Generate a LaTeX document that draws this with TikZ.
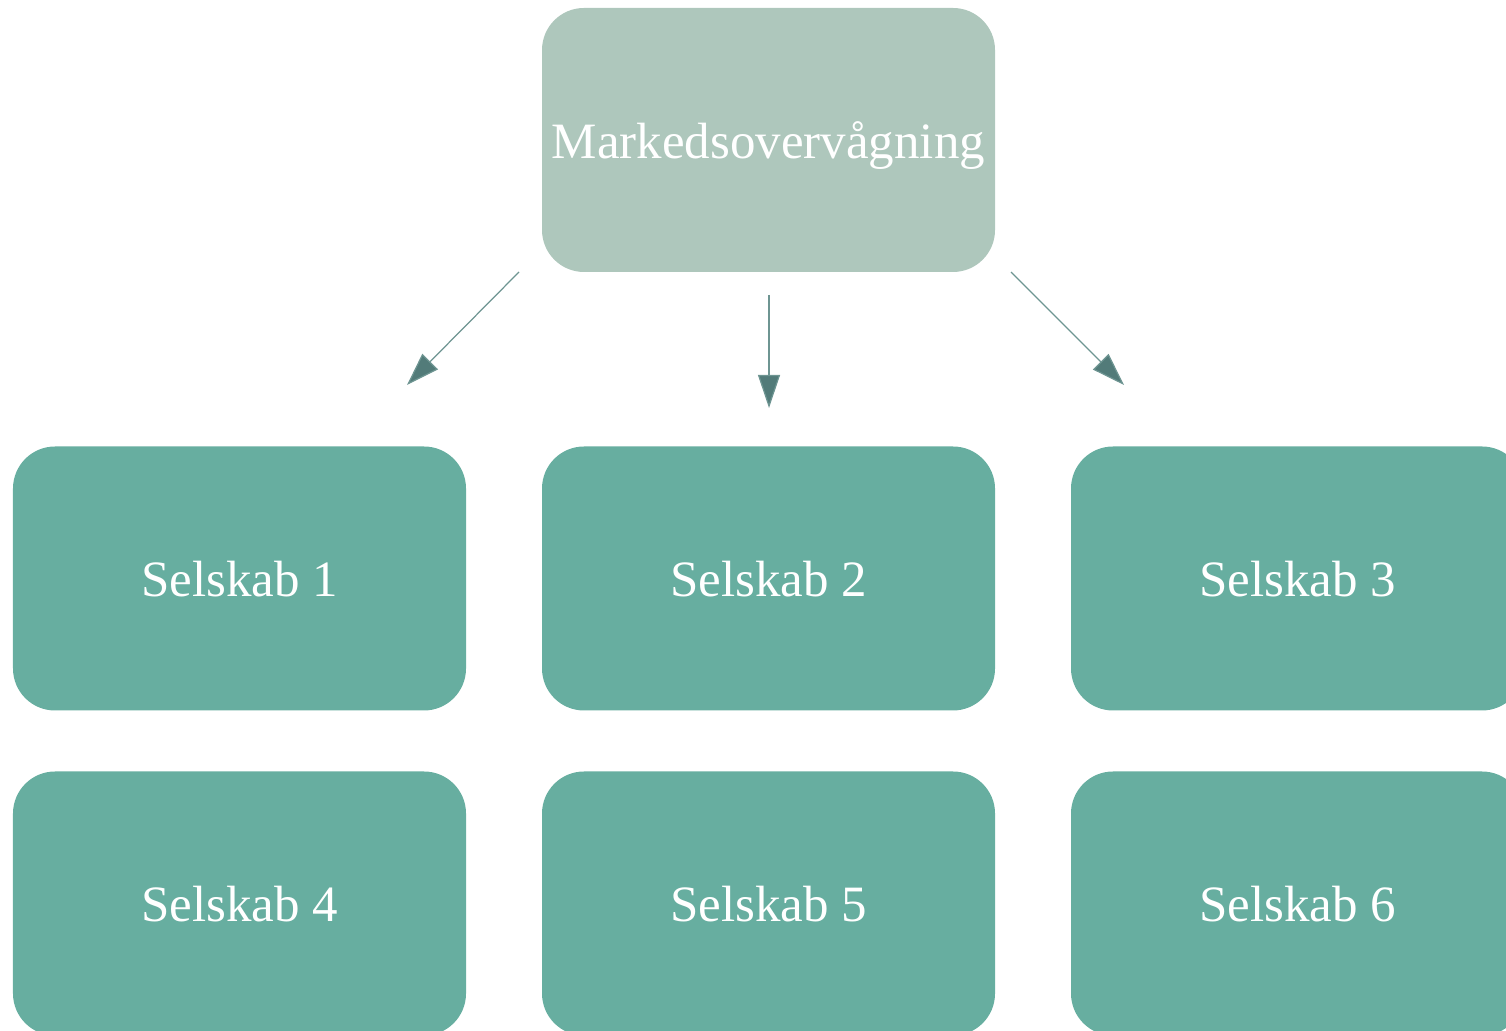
\documentclass[tikz,border=0pt]{standalone}
\usepackage{fontspec}
\setmainfont{Liberation Serif}
\usepackage{tikz}
\usetikzlibrary{arrows.meta}
\usepackage{xcolor}

\definecolor{topfill}{HTML}{AEC7BC}
\definecolor{boxfill}{HTML}{67AEA0}
\definecolor{arrowcol}{HTML}{527B79}
\definecolor{linecol}{HTML}{6E9592}

\begin{document}
\begin{tikzpicture}[
            firm/.style = {shape=rectangle, rounded corners=0.84cm, fill=boxfill,
                minimum width=9.06cm, minimum height=5.28cm, text=white,
                text depth=0pt, font=\fontsize{29}{35}\selectfont},
            head/.style = {firm, fill=topfill},
            link/.style = {-{Triangle[length=0.66cm, width=0.44cm, fill=arrowcol]},
                draw=linecol, line width=0.7pt} % arrow head style
        ]
\useasboundingbox (0,0) rectangle (30.12,20.62);

\node[head] (M) at (15.37,17.82) {Markedsovervågning};

\node[firm] (S1) at (4.79,9.05) {Selskab 1};
\node[firm] (S2) at (15.37,9.05) {Selskab 2};
\node[firm] (S3) at (25.95,9.05) {Selskab 3};
\node[firm] (S4) at (4.79,2.55) {Selskab 4};
\node[firm] (S5) at (15.37,2.55) {Selskab 5};
\node[firm] (S6) at (25.95,2.55) {Selskab 6};

% free-standing arrows below the top box
\coordinate (L0) at (10.38,15.18);
\coordinate (L1) at (8.14,12.92);
\coordinate (C0) at (15.38,14.72);
\coordinate (C1) at (15.38,12.46);
\coordinate (R0) at (20.22,15.18);
\coordinate (R1) at (22.48,12.92);

\draw [link] (L0) -- (L1);
\draw [link] (C0) -- (C1);
\draw [link] (R0) -- (R1);
\end{tikzpicture}
\end{document}
